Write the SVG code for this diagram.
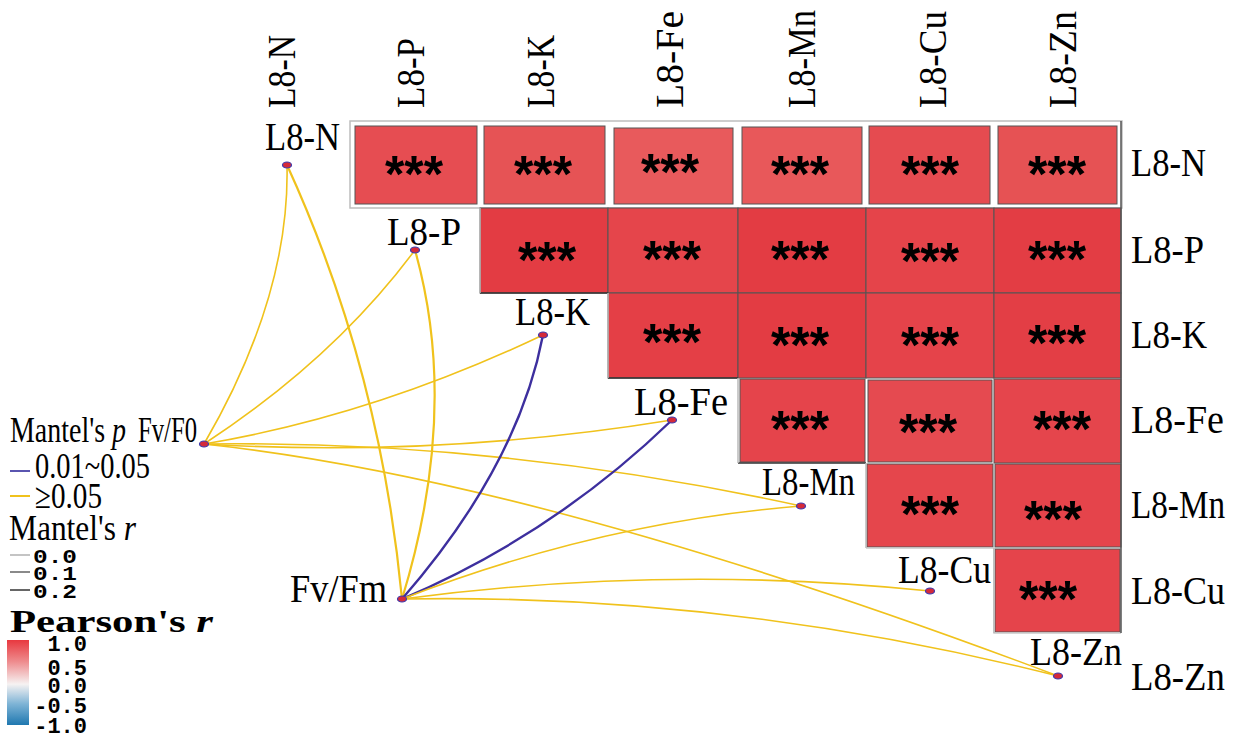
<svg xmlns="http://www.w3.org/2000/svg" width="1242" height="746" viewBox="0 0 1242 746">
<defs>
<style>
.lbl{font-family:"Liberation Serif",serif;font-size:41px;fill:#000}
.lg{font-family:"Liberation Serif",serif;font-size:36px;fill:#000}
.mono{font-family:"Liberation Mono",monospace;font-weight:bold;fill:#000}
.pr{font-family:"Liberation Serif",serif;font-weight:bold;fill:#000}
.star{font-family:"Liberation Sans",sans-serif;font-weight:bold;font-size:52px;text-anchor:middle;fill:#000}
.cell{stroke:#555;stroke-width:1}
.y{stroke:#f0c21c;stroke-width:1.6;fill:none}
.yt{stroke:#f0c21c;stroke-width:2.2;fill:none}
.b{stroke:#3d2f9e;stroke-width:2.4;fill:none}
.dot{fill:#d42a3a;stroke:#3b3bb0;stroke-width:1.2}
</style>
<linearGradient id="cbar" x1="0" y1="0" x2="0" y2="1">
<stop offset="0" stop-color="#e8383f"/>
<stop offset="0.25" stop-color="#ee8a8c"/>
<stop offset="0.52" stop-color="#f6f2f2"/>
<stop offset="0.75" stop-color="#7fb4d6"/>
<stop offset="1" stop-color="#1f78b0"/>
</linearGradient>
</defs>
<rect width="1242" height="746" fill="#fff"/>

<!-- column labels -->
<g id="col-labels" class="lbl">
<text transform="translate(295,108) rotate(-90)" textLength="73" lengthAdjust="spacingAndGlyphs">L8-N</text>
<text transform="translate(424,108) rotate(-90)" textLength="70" lengthAdjust="spacingAndGlyphs">L8-P</text>
<text transform="translate(554,108) rotate(-90)" textLength="73" lengthAdjust="spacingAndGlyphs">L8-K</text>
<text transform="translate(683,108) rotate(-90)" textLength="97" lengthAdjust="spacingAndGlyphs">L8-Fe</text>
<text transform="translate(815,108) rotate(-90)" textLength="98" lengthAdjust="spacingAndGlyphs">L8-Mn</text>
<text transform="translate(946,108) rotate(-90)" textLength="97" lengthAdjust="spacingAndGlyphs">L8-Cu</text>
<text transform="translate(1076,108) rotate(-90)" textLength="97" lengthAdjust="spacingAndGlyphs">L8-Zn</text>
</g>

<!-- row labels -->
<g id="row-labels" class="lbl">
<text x="1131" y="176" textLength="75" lengthAdjust="spacingAndGlyphs">L8-N</text>
<text x="1131" y="263" textLength="73" lengthAdjust="spacingAndGlyphs">L8-P</text>
<text x="1131" y="348" textLength="76" lengthAdjust="spacingAndGlyphs">L8-K</text>
<text x="1131" y="433" textLength="93" lengthAdjust="spacingAndGlyphs">L8-Fe</text>
<text x="1131" y="518" textLength="94" lengthAdjust="spacingAndGlyphs">L8-Mn</text>
<text x="1131" y="604" textLength="94" lengthAdjust="spacingAndGlyphs">L8-Cu</text>
<text x="1131" y="690" textLength="94" lengthAdjust="spacingAndGlyphs">L8-Zn</text>
</g>

<!-- heatmap -->
<g id="heatmap">
<rect x="350" y="121" width="772" height="87" fill="#fff" stroke="#bdbdbd" stroke-width="1.5"/>
<g id="row-N">
<rect x="355" y="126" width="122" height="78" class="cell" fill="#e64d52"/>
<rect x="484" y="126" width="121" height="78" class="cell" fill="#e65355" stroke="#999"/>
<rect x="614" y="128" width="119" height="76" class="cell" fill="#e85a5c"/>
<rect x="742" y="127" width="120" height="77" class="cell" fill="#e8585a"/>
<rect x="869" y="126" width="121" height="78" class="cell" fill="#e54b50" stroke="#999"/>
<rect x="998" y="126" width="119" height="78" class="cell" fill="#e65254" stroke="#888"/>
</g>
<g id="row-P">
<rect x="480" y="208" width="128" height="85" class="cell" fill="#e33c43"/>
<rect x="608" y="208" width="130" height="85" class="cell" fill="#e5454b" stroke="#777"/>
<rect x="738" y="208" width="128" height="85" class="cell" fill="#e33c43"/>
<rect x="866" y="208" width="128" height="85" class="cell" fill="#e5444a" stroke="#777"/>
<rect x="994" y="208" width="127" height="85" class="cell" fill="#e33d44"/>
</g>
<g id="row-K">
<rect x="608" y="293" width="130" height="85" class="cell" fill="#e43f46"/>
<rect x="738" y="293" width="128" height="85" class="cell" fill="#e33c43"/>
<rect x="866" y="293" width="128" height="85" class="cell" fill="#e5434a" stroke="#777"/>
<rect x="994" y="293" width="127" height="85" class="cell" fill="#e33e45"/>
</g>
<g id="row-Fe">
<rect x="740" y="379" width="125" height="83" class="cell" fill="#e5444b" stroke="#888"/>
<rect x="868" y="380" width="124" height="82" class="cell" fill="#e54a50" stroke="#bbb"/>
<rect x="994" y="379" width="127" height="84" class="cell" fill="#e5454c" stroke="#999"/>
</g>
<g id="row-Mn">
<rect x="867" y="464" width="126" height="83" class="cell" fill="#e5464c" stroke="#888"/>
<rect x="995" y="464" width="126" height="83" class="cell" fill="#e5444b" stroke="#666"/>
</g>
<g id="row-Cu">
<rect x="995" y="549" width="125" height="83" class="cell" fill="#e5444b" stroke="#666"/>
</g>
<g id="grid-lines" fill="none" stroke-width="1.5">
<path d="M480 293 H608 M608 378 H738 M738 463 H866" stroke="#333"/>
<path d="M866 548 H994 V633 H1121" stroke="#c9c9c9"/>
<path d="M1121 121 V633" stroke="#555"/>
<path d="M480 208 V293 M608 293 V378 M738 378 V463 M866 463 V548 M994 548 V633" stroke="#bbb"/>
</g>
<g id="stars" class="star">
<text x="414" y="192" textLength="58" lengthAdjust="spacingAndGlyphs">***</text>
<text x="543" y="192" textLength="58" lengthAdjust="spacingAndGlyphs">***</text>
<text x="670" y="190" textLength="58" lengthAdjust="spacingAndGlyphs">***</text>
<text x="800" y="192" textLength="58" lengthAdjust="spacingAndGlyphs">***</text>
<text x="930" y="192" textLength="58" lengthAdjust="spacingAndGlyphs">***</text>
<text x="1057" y="192" textLength="58" lengthAdjust="spacingAndGlyphs">***</text>
<text x="547" y="278" textLength="58" lengthAdjust="spacingAndGlyphs">***</text>
<text x="672" y="277" textLength="58" lengthAdjust="spacingAndGlyphs">***</text>
<text x="800" y="277" textLength="58" lengthAdjust="spacingAndGlyphs">***</text>
<text x="930" y="279" textLength="58" lengthAdjust="spacingAndGlyphs">***</text>
<text x="1057" y="277" textLength="58" lengthAdjust="spacingAndGlyphs">***</text>
<text x="672" y="360" textLength="58" lengthAdjust="spacingAndGlyphs">***</text>
<text x="800" y="363" textLength="58" lengthAdjust="spacingAndGlyphs">***</text>
<text x="930" y="363" textLength="58" lengthAdjust="spacingAndGlyphs">***</text>
<text x="1057" y="361" textLength="58" lengthAdjust="spacingAndGlyphs">***</text>
<text x="800" y="447" textLength="58" lengthAdjust="spacingAndGlyphs">***</text>
<text x="928" y="450" textLength="58" lengthAdjust="spacingAndGlyphs">***</text>
<text x="1062" y="447" textLength="58" lengthAdjust="spacingAndGlyphs">***</text>
<text x="930" y="532" textLength="58" lengthAdjust="spacingAndGlyphs">***</text>
<text x="1053" y="537" textLength="58" lengthAdjust="spacingAndGlyphs">***</text>
<text x="1048" y="617" textLength="58" lengthAdjust="spacingAndGlyphs">***</text>
</g>
</g>

<!-- connectors -->
<g id="connectors">
<path class="y" d="M204 444 Q290 296 287 165"/>
<path class="y" d="M204 444 Q334 359 415 250"/>
<path class="y" d="M204 444 Q372 416 543 335"/>
<path class="y" d="M204 444 Q438 458 672 420"/>
<path class="y" d="M204 444 Q500 440 801 506"/>
<path class="y" d="M204 444 Q540 480 1058 676"/>
<path class="yt" d="M402 599 Q380 368 287 165"/>
<path class="yt" d="M402 599 Q460 410 415 250"/>
<path class="b" d="M402 599 Q518 466 543 335"/>
<path class="b" d="M402 599 Q553 535 672 420"/>
<path class="y" d="M402 599 Q600 522 801 506"/>
<path class="y" d="M402 599 Q666 564 930 591"/>
<path class="y" d="M402 599 Q730 593 1058 676"/>
</g>

<!-- nodes -->
<g id="node-N"><ellipse class="dot" cx="287" cy="165" rx="4.5" ry="3"/><text class="lbl" x="265" y="150" textLength="75" lengthAdjust="spacingAndGlyphs">L8-N</text></g>
<g id="node-P"><ellipse class="dot" cx="415" cy="250" rx="4.5" ry="3"/><text class="lbl" x="387" y="245" textLength="74" lengthAdjust="spacingAndGlyphs">L8-P</text></g>
<g id="node-K"><ellipse class="dot" cx="543" cy="335" rx="4.5" ry="3"/><text class="lbl" x="515" y="325" textLength="75" lengthAdjust="spacingAndGlyphs">L8-K</text></g>
<g id="node-Fe"><ellipse class="dot" cx="672" cy="420" rx="4.5" ry="3"/><text class="lbl" x="634" y="415" textLength="94" lengthAdjust="spacingAndGlyphs">L8-Fe</text></g>
<g id="node-Mn"><ellipse class="dot" cx="801" cy="506" rx="4.5" ry="3"/><text class="lbl" x="762" y="495" textLength="93" lengthAdjust="spacingAndGlyphs">L8-Mn</text></g>
<g id="node-Cu"><ellipse class="dot" cx="930" cy="591" rx="4.5" ry="3"/><text class="lbl" x="898" y="583" textLength="93" lengthAdjust="spacingAndGlyphs">L8-Cu</text></g>
<g id="node-Zn"><ellipse class="dot" cx="1058" cy="676" rx="4.5" ry="3"/><text class="lbl" x="1030" y="665" textLength="92" lengthAdjust="spacingAndGlyphs">L8-Zn</text></g>
<g id="node-FvF0"><ellipse class="dot" cx="204" cy="444" rx="4.5" ry="3"/><text class="lg" x="138" y="442" textLength="59" lengthAdjust="spacingAndGlyphs">Fv/F0</text></g>
<g id="node-FvFm"><ellipse class="dot" cx="402" cy="599" rx="4.5" ry="3"/><text class="lbl" font-size="38" x="290" y="602" textLength="97" lengthAdjust="spacingAndGlyphs">Fv/Fm</text></g>

<!-- legend -->
<g id="legend">
<text class="lg" x="10" y="442" textLength="116" lengthAdjust="spacingAndGlyphs">Mantel's <tspan font-style="italic">p</tspan></text>
<line x1="10" y1="471" x2="30" y2="471" stroke="#5a55b0" stroke-width="2"/>
<text class="lg" font-size="29" x="35" y="478" textLength="115" lengthAdjust="spacingAndGlyphs">0.01~0.05</text>
<line x1="10" y1="496" x2="30" y2="496" stroke="#f0c21c" stroke-width="2"/>
<text class="lg" font-size="29" x="35" y="508" textLength="67" lengthAdjust="spacingAndGlyphs">≥0.05</text>
<text class="lg" x="9" y="540" textLength="127" lengthAdjust="spacingAndGlyphs">Mantel's <tspan font-style="italic">r</tspan></text>
<line x1="10" y1="555" x2="30" y2="555" stroke="#c4c4c4" stroke-width="2"/>
<text class="mono" font-size="21" x="33" y="563" textLength="44" lengthAdjust="spacingAndGlyphs">0.0</text>
<line x1="10" y1="572" x2="30" y2="572" stroke="#8a8a8a" stroke-width="2"/>
<text class="mono" font-size="21" x="33" y="580" textLength="44" lengthAdjust="spacingAndGlyphs">0.1</text>
<line x1="10" y1="590" x2="30" y2="590" stroke="#666" stroke-width="2"/>
<text class="mono" font-size="21" x="33" y="598" textLength="44" lengthAdjust="spacingAndGlyphs">0.2</text>
<text class="pr" font-size="31" x="10" y="632" textLength="203" lengthAdjust="spacingAndGlyphs">Pearson's <tspan font-style="italic">r</tspan></text>
<rect x="7" y="640" width="22" height="85" fill="url(#cbar)"/>
<g class="mono" font-size="22" text-anchor="end">
<text x="87" y="651">1.0</text>
<text x="87" y="675">0.5</text>
<text x="87" y="693">0.0</text>
<text x="87" y="713">-0.5</text>
<text x="87" y="733">-1.0</text>
</g>
</g>
</svg>
